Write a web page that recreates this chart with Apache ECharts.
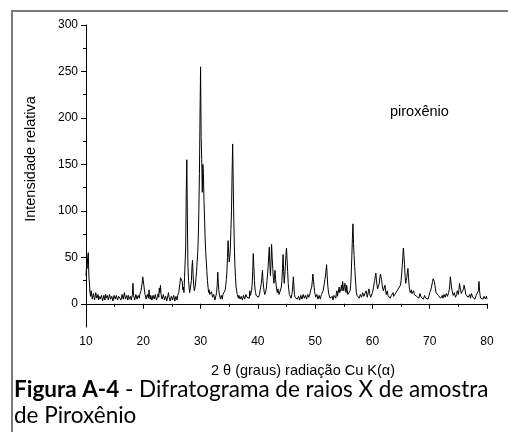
<!DOCTYPE html>
<html><head><meta charset="utf-8">
<script src="https://cdn.jsdelivr.net/npm/echarts@6/dist/echarts.min.js"></script>
<style>html,body{margin:0;padding:0;background:#fff}#c{width:508px;height:432px}</style>
</head><body><div id="c"></div>
<script>
// 2θ sampling: start 10°, step 0.1°
const thetaStart = 10;
const thetaStep = 0.1;
// intensities 10.0° .. 19.9°
const int10 = [30,42,38,50,55,30,22,12,8,14, 12,5,6,11,10,4,5,12,9,6, 7,10,4,8,9,5,6,9,8,3, 3,9,7,4,10,6,5,9,8,4, 6,10,9,5,4,8,7,3,5,9, 10,5,6,9,8,4,3,8,7,10, 9,4,5,10,8,5,6,12,11,5, 4,9,7,4,9,10,5,6,8,4, 7,10,22,9,8,4,6,10,9,5, 5,9,8,6,10,12,14,18,22,29];
// 20.0° .. 29.9°
const int20 = [27,20,15,10,8,5,6,10,9,6, 15,8,5,9,7,4,4,9,8,5, 6,10,9,4,5,8,11,7,17,12, 20,10,8,5,6,10,9,4,4,8, 7,3,5,9,12,7,6,3,3,8, 7,4,5,9,8,3,4,8,6,4, 9,7,12,18,22,28,30,26,24,15, 18,12,28,30,60,120,155,90,40,25, 18,12,10,14,25,40,47,30,20,14, 12,20,28,35,45,55,70,100,140,200];
// 30.0° .. 39.9°
const int30 = [255,180,155,120,150,140,110,90,70,55, 45,35,25,18,12,15,10,8,8,13, 12,7,6,10,9,4,5,9,12,20, 34,22,14,9,7,5,9,8,5,10, 8,10,12,15,20,26,35,50,68,55, 45,50,60,80,100,140,172,130,90,60, 40,28,18,14,10,8,6,9,8,5, 4,8,7,4,5,9,9,5,6,10, 12,7,5,9,8,6,14,9,10,14, 20,35,54,40,25,16,12,9,8,11];
// 40.0° .. 49.9°
const int40 = [10,7,6,10,15,18,22,28,36,25, 18,13,10,12,14,18,25,32,40,52, 61,42,30,45,64,50,38,28,22,28, 36,26,20,15,12,16,15,10,8,10, 12,18,25,38,53,35,22,30,40,52, 60,48,35,22,15,10,8,9,6,8, 12,20,29,18,10,7,5,9,8,5, 4,8,7,4,5,9,9,5,6,10, 10,6,5,9,8,5,6,10,11,7, 7,11,14,12,18,24,32,26,20,13];
// 50.0° .. 59.9°
const int50 = [10,7,6,10,9,5,5,9,8,5, 6,10,10,8,14,18,22,26,30,36, 42,30,20,14,10,8,6,8,4,6, 8,4,5,9,10,7,6,11,14,8, 9,15,18,12,10,16,20,14,24,18, 14,19,22,15,12,20,18,10,8,12, 10,14,20,32,50,70,86,65,52,40, 30,20,12,9,7,11,10,6,6,10, 12,7,8,12,14,8,6,10,9,14, 12,7,8,13,16,11,10,7,6,9];
// 60.0° .. 69.9°
const int60 = [12,15,18,22,25,30,33,26,20,16, 15,18,22,28,32,30,26,20,18,14, 12,16,20,14,10,12,14,9,7,11, 10,6,5,9,8,10,12,8,6,10, 9,12,14,10,12,16,18,14,16,20, 25,32,40,50,60,52,42,30,22,25, 28,34,38,28,20,15,12,14,15,11, 9,12,14,10,8,11,12,8,6,9, 10,6,8,11,12,7,5,8,9,5, 6,9,10,6,4,8,8,5,6,9];
// 70.0° .. 80.0°
const int70 = [12,14,15,18,20,24,27,25,24,20, 16,12,10,14,13,9,7,10,10,6, 5,8,9,6,7,10,11,7,8,11, 12,8,9,12,15,20,29,24,18,14, 12,9,8,12,11,7,6,10,14,12, 10,15,22,18,15,11,9,12,12,16, 20,17,14,10,8,11,11,7,6,9, 10,6,7,11,12,7,5,8,9,5, 6,9,10,7,8,14,24,14,9,6, 5,8,8,5,4,8,9,5,6,8, 5];

const xTicks = [10,20,30,40,50,60,70,80];
const xMinorTicks = [15,25,35,45,55,65,75];
const yTicks = [0,50,100,150,200,250,300];
const yMinorTicks = [25,75,125,175,225,275];

const intensities = [].concat(int10,int20,int30,int40,int50,int60,int70);
const data = intensities.map((v,i)=>[+(thetaStart + i*thetaStep).toFixed(2), v]);

const chart = echarts.init(document.getElementById('c'), null, {renderer:'canvas'});
const labelFont = {fontFamily:'Liberation Sans, Arial, sans-serif', fontSize:12, color:'#000'};
chart.setOption({
  animation:false,
  backgroundColor:'#fff',
  grid:{left:86, right:21, top:25, bottom:105, containLabel:false},
  xAxis:[{
    type:'value', min:10, max:80, interval:10,
    axisLine:{lineStyle:{color:'#000', width:1}},
    axisTick:{show:true, length:5, inside:false, lineStyle:{color:'#000'}, customValues:xTicks},
    axisLabel:Object.assign({margin:9, customValues:xTicks}, labelFont),
    splitLine:{show:false}
  },{
    type:'value', min:10, max:80, position:'bottom',
    axisLine:{show:false},
    axisTick:{show:true, length:3, inside:false, lineStyle:{color:'#000'}, customValues:xMinorTicks},
    axisLabel:{show:false}, splitLine:{show:false}
  }],
  yAxis:[{
    type:'value', min:-25, max:300,
    axisLine:{show:true, lineStyle:{color:'#000', width:1}},
    axisTick:{show:true, length:5, inside:false, lineStyle:{color:'#000'}, customValues:yTicks},
    axisLabel:Object.assign({margin:8, customValues:yTicks}, labelFont),
    splitLine:{show:false}
  },{
    type:'value', min:-25, max:300, position:'left',
    axisLine:{show:false},
    axisTick:{show:true, length:3, inside:false, lineStyle:{color:'#000'}, customValues:yMinorTicks},
    axisLabel:{show:false}, splitLine:{show:false}
  }],
  series:[{
    type:'line', data:data, xAxisIndex:0, yAxisIndex:0,
    showSymbol:false, symbol:'none',
    lineStyle:{color:'#000', width:1}
  }],
  graphic:[
    {type:'line', shape:{x1:11, y1:11, x2:508, y2:11}, style:{stroke:'#7a7a7a', lineWidth:2}},
    {type:'line', shape:{x1:12, y1:10, x2:12, y2:432}, style:{stroke:'#7a7a7a', lineWidth:2}},
    {type:'text', x:390, y:112, style:{text:'piroxênio', font:'14.5px "Liberation Sans", Arial, sans-serif', fill:'#000', verticalAlign:'middle'}},
    {type:'text', x:31, y:159, rotation:Math.PI/2, style:{text:'Intensidade relativa', font:'14.5px "Liberation Sans", Arial, sans-serif', fill:'#000', align:'center', verticalAlign:'middle'}},
    {type:'text', x:303, y:371, style:{text:'2 θ (graus) radiação Cu K(α)', font:'14.5px "Liberation Sans", Arial, sans-serif', fill:'#000', align:'center', verticalAlign:'middle'}},
    {type:'text', x:14, y:390, style:{rich:{b:{fontFamily:'Lato', fontWeight:'bold', fontSize:22.5, fill:'#000'}, n:{fontFamily:'Lato', fontSize:22.5, fill:'#000'}}, text:'{b|Figura A-4}{n| - Difratograma de raios X de amostra}', verticalAlign:'middle'}},
    {type:'text', x:14, y:416, style:{text:'de Piroxênio', font:'22.5px Lato', fill:'#000', verticalAlign:'middle'}}
  ]
});
</script></body></html>
